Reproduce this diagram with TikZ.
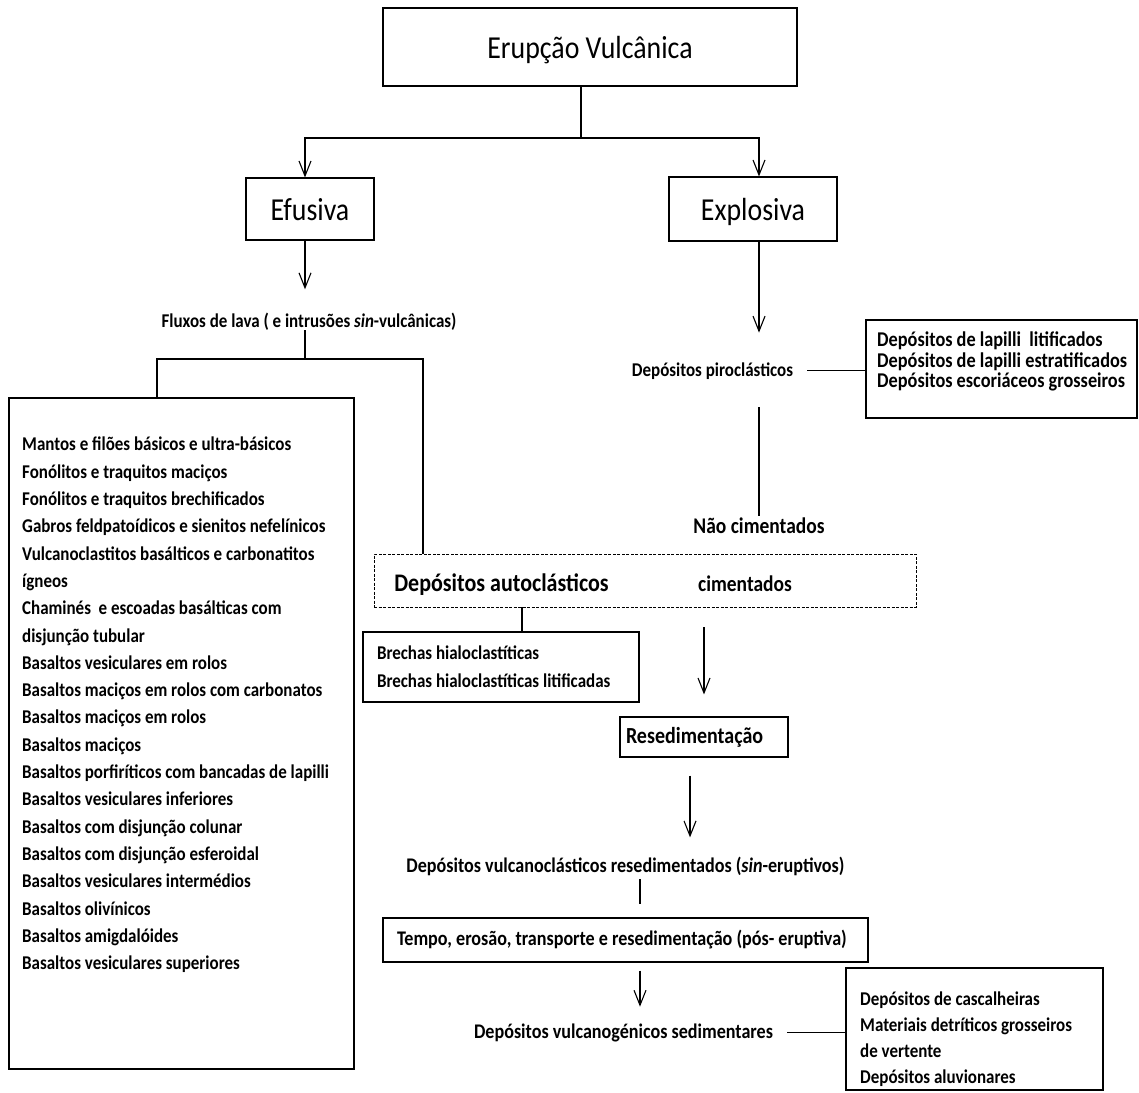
\documentclass[tikz,border=0pt]{standalone}
\usepackage{fontspec}
\setmainfont{Carlito}[FakeStretch=0.87]
\usetikzlibrary{arrows.meta}

\begin{document}
\begin{tikzpicture}[x=1pt,y=-1pt,
  box/.style={draw,line width=1.1pt,inner sep=0pt},
  ttl/.style={box,font=\fontsize{32}{38}\selectfont,text height=26pt,text depth=4pt},
  lbl/.style={inner sep=0pt,font=\fontsize{19.5}{23}\selectfont\bfseries},
  lbig/.style={inner sep=0pt,font=\fontsize{20.8}{24}\selectfont\bfseries},
  lbox/.style={box,align=flush left,font=\fontsize{19.5}{23}\selectfont\bfseries},
  dbox/.style={draw,line width=0.9pt,dash pattern=on 3pt off 1.5pt,inner sep=0pt},
  ln/.style={line width=1.1pt},
  arr/.style={ln,-{Straight Barb[length=15pt,width=12pt]}}
]
\useasboundingbox (0,0) rectangle (1139,1092);

% top of the tree
\node[ttl,minimum width=414pt,minimum height=78pt] (erup) at (590,47) {Erupção Vulcânica};
\node[ttl,minimum width=128pt,minimum height=62pt] (efus) at (310,209) {Efusiva};
\node[ttl,minimum width=168pt,minimum height=64pt] (expl) at (753,209) {Explosiva};
\coordinate (split) at (581,138);
\coordinate (fork) at (305,359);

% efusiva side
\node[lbl,anchor=base] (flux) at (309,327) {Fluxos de lava ( e intrusões \textit{sin}-vulcânicas)};
\node[box,minimum width=345pt,minimum height=671pt] (lstbox) at (181.5,733.5) {};
\node[lbl,align=flush left,anchor=north west,font=\fontsize{19.5}{27.3}\selectfont\bfseries] (lsttxt) at (22,437) {%
  Mantos e filões básicos e ultra-básicos\\
  Fonólitos e traquitos maciços\\
  Fonólitos e traquitos brechificados\\
  Gabros feldpatoídicos e sienitos nefelínicos\\
  Vulcanoclastitos basálticos e carbonatitos\\
  ígneos\\
  Chaminés~ e escoadas basálticas com\\
  disjunção tubular\\
  Basaltos vesiculares em rolos\\
  Basaltos maciços em rolos com carbonatos\\
  Basaltos maciços em rolos\\
  Basaltos maciços\\
  Basaltos porfiríticos com bancadas de lapilli\\
  Basaltos vesiculares inferiores\\
  Basaltos com disjunção colunar\\
  Basaltos com disjunção esferoidal\\
  Basaltos vesiculares intermédios\\
  Basaltos olivínicos\\
  Basaltos amigdalóides\\
  Basaltos vesiculares superiores};
\node[dbox,minimum width=542pt,minimum height=53pt] (auto) at (645,580.5) {};
\node[lbl,anchor=base,font=\fontsize{25.3}{30}\selectfont\bfseries] (autot) at (501.5,591) {Depósitos autoclásticos};
\node[lbl,anchor=base,font=\fontsize{22.4}{26}\selectfont\bfseries] (cim) at (745,591) {cimentados};
\node[lbox,minimum width=276pt,minimum height=70pt,text width=248pt,inner xsep=14pt,
  font=\fontsize{19.5}{28}\selectfont\bfseries] (brec) at (501,667) {%
  Brechas hialoclastíticas\\
  Brechas hialoclastíticas litificadas};

% explosiva side
\node[lbl,anchor=base] (pir) at (712.5,376) {Depósitos piroclásticos};
\node[box,minimum width=271pt,minimum height=98pt] (lap) at (1001.5,369) {};
\node[lbl,align=flush left,anchor=west,font=\fontsize{21}{20.8}\selectfont\bfseries] (laptxt) at (877,361.5) {%
  Depósitos de lapilli~ litificados\\
  Depósitos de lapilli estratificados\\
  Depósitos escoriáceos grosseiros};
\node[lbl,anchor=base,font=\fontsize{22.4}{26}\selectfont\bfseries] (naocim) at (759,533) {Não cimentados};

% resedimentation
\node[lbox,minimum width=168pt,minimum height=40pt,text width=156pt,inner xsep=6pt,
  font=\fontsize{23}{27}\selectfont\bfseries] (resed) at (704,737) {Resedimentação};
\node[lbig,anchor=base] (vcl) at (625.5,872) {Depósitos vulcanoclásticos resedimentados (\textit{sin}-eruptivos)};
\node[lbox,minimum width=485pt,minimum height=44pt,text width=457pt,inner xsep=14pt,
  font=\fontsize{20.8}{24}\selectfont\bfseries] (tempo) at (625.5,940)
  {Tempo, erosão, transporte e resedimentação (pós- eruptiva)};
\node[lbig,anchor=base] (vgen) at (623.5,1038) {Depósitos vulcanogénicos sedimentares};
\node[box,minimum width=257pt,minimum height=122pt] (casc) at (974.5,1029) {};
\node[lbl,align=flush left,anchor=west,font=\fontsize{19.5}{26}\selectfont\bfseries] (casctxt) at (860,1039) {%
  Depósitos de cascalheiras\\
  Materiais detríticos grosseiros\\
  de vertente\\
  Depósitos aluvionares};

% connectors
\draw[ln] (split |- erup.south) -- (split);
\draw[arr] (split) -| (efus.north -| fork);
\draw[arr] (split) -| (expl.north -| naocim);
\draw[arr,shorten >=23pt] (efus.south -| fork) -- (flux.north -| fork);
\draw[ln] (flux.south -| fork) -- (fork);
\draw[ln] ([xshift=-24.5pt]lstbox.north) |- (fork) -| ([xshift=-222pt]auto.north);
\draw[ln] ([xshift=21pt]brec.north) -- ([xshift=21pt]brec.north |- auto.south);
\draw[arr,shorten >=29.5pt] (expl.south -| naocim) -- (pir.north -| naocim);
\draw[ln,shorten <=14pt] (pir.east) -- (pir.east -| lap.west);
\draw[ln,shorten <=28pt,shorten >=1pt] (pir.south -| naocim) -- (naocim.north);
\draw[arr,shorten <=20pt,shorten >=22pt] (auto.south -| resed.north) -- (resed.north);
\draw[arr,shorten <=18pt,shorten >=19pt] ([xshift=-14pt]resed.south) -- ([xshift=-14pt]resed.south |- vcl.north);
\draw[ln,shorten <=4pt,shorten >=13pt] ([xshift=14.5pt]vcl.south) -- ([xshift=14.5pt]vcl.south |- tempo.north);
\draw[arr,shorten <=8pt,shorten >=16.5pt] ([xshift=14.5pt]tempo.south) -- ([xshift=14.5pt]tempo.south |- vgen.north);
\draw[ln,shorten <=14pt,shorten >=0pt] (vgen.east) -- (vgen.east -| casc.west);
\end{tikzpicture}
\end{document}
